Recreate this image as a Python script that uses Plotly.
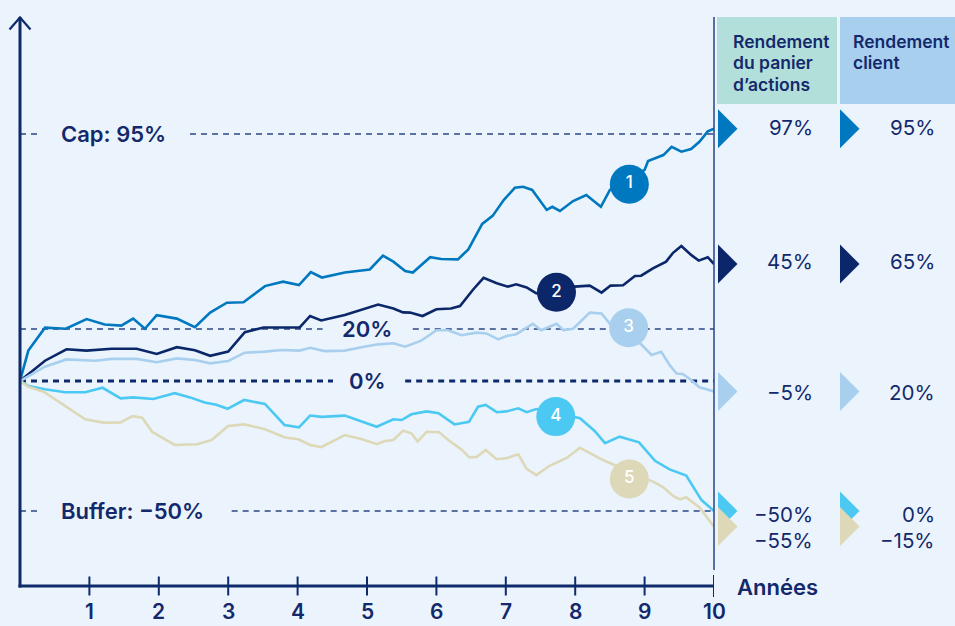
import plotly.graph_objects as go

# ---------------- data ----------------
years_1 = [0, 0.12, 0.36, 0.66, 0.96, 1.22, 1.46, 1.63, 1.80, 1.97, 2.26, 2.52, 2.74, 2.98, 3.22, 3.53,
           3.79, 4.02, 4.19, 4.35, 4.68, 5.04, 5.23, 5.38, 5.55, 5.66, 5.91, 6.07, 6.31, 6.46, 6.66, 6.81,
           6.97, 7.13, 7.25, 7.38, 7.59, 7.67, 7.78, 7.97, 8.16, 8.37, 8.50, 9.00, 9.05, 9.27, 9.39, 9.53,
           9.67, 9.79, 9.91, 10]
ret_1 = [0, 11.7, 20.5, 20.1, 23.8, 21.7, 21.3, 24.0, 20.1, 25.3, 24.0, 20.7, 26.3, 30.1, 30.3, 36.5,
         38.2, 36.9, 41.9, 39.8, 41.7, 42.9, 48.2, 45.9, 42.3, 41.7, 47.6, 46.9, 46.8, 50.6, 60.4, 63.5,
         69.6, 74.3, 74.7, 73.5, 65.8, 67.0, 65.4, 69.2, 71.5, 67.0, 73.5, 81.2, 84.6, 86.9, 90.1, 88.2,
         89.2, 92.0, 96.0, 97]

years_2 = [0, 0.36, 0.67, 0.96, 1.32, 1.68, 1.97, 2.26, 2.52, 2.74, 3.00, 3.24, 3.51, 4.03, 4.18, 4.34,
           4.68, 4.97, 5.16, 5.38, 5.52, 5.62, 5.80, 6.00, 6.21, 6.34, 6.53, 6.68, 6.87, 7.03, 7.15, 7.30,
           7.44, 7.99, 8.21, 8.38, 8.51, 8.69, 8.86, 8.95, 9.12, 9.31, 9.41, 9.53, 9.67, 9.78, 9.91, 10]
ret_2 = [0, 7.8, 12.2, 11.7, 12.4, 12.4, 10.4, 13.0, 11.8, 9.7, 11.3, 18.8, 20.6, 20.6, 25.0, 23.3,
         25.4, 27.9, 29.4, 27.9, 26.4, 26.3, 25.0, 27.6, 27.9, 28.8, 35.2, 39.7, 37.6, 36.3, 37.2, 36.0,
         33.7, 36.3, 36.7, 34.0, 36.7, 36.8, 40.4, 40.5, 43.3, 45.9, 49.3, 51.9, 48.5, 46.3, 47.6, 45]

years_3 = [0, 0.36, 0.67, 1.08, 1.32, 1.68, 1.97, 2.26, 2.52, 2.74, 3.00, 3.24, 3.53, 3.77, 4.03, 4.18,
           4.39, 4.68, 4.92, 5.16, 5.38, 5.55, 5.78, 6.00, 6.17, 6.36, 6.58, 6.72, 6.89, 7.01, 7.15, 7.39,
           7.51, 7.73, 7.83, 7.97, 8.21, 8.38, 8.50, 8.95, 9.10, 9.24, 9.36, 9.46, 9.55, 9.67, 9.79, 9.94, 10]
ret_3 = [0, 5.5, 8.3, 7.8, 8.5, 8.5, 7.2, 8.7, 8.1, 6.8, 7.7, 10.9, 11.3, 11.9, 11.7, 12.8,
         11.5, 11.7, 13.0, 14.1, 14.5, 13.2, 15.5, 19.5, 19.5, 17.6, 18.6, 18.3, 16.0, 17.3, 18.0, 22.0,
         19.5, 22.0, 19.6, 20.1, 26.3, 26.0, 22.0, 14.1, 10.0, 11.2, 6.2, 2.9, 2.7, 0.4, -2.4, -3.5, -4]

years_4 = [0, 0.12, 0.36, 0.65, 0.94, 1.19, 1.45, 1.63, 1.92, 2.23, 2.45, 2.66, 2.83, 2.99, 3.23, 3.38,
           3.53, 3.81, 4.02, 4.18, 4.35, 4.68, 4.92, 5.14, 5.38, 5.50, 5.64, 5.86, 6.03, 6.26, 6.47, 6.60,
           6.71, 6.87, 7.01, 7.18, 7.30, 7.44, 8.07, 8.28, 8.43, 8.64, 8.92, 9.15, 9.36, 9.60, 9.82, 10]
ret_4 = [0, -1.9, -3.2, -4.3, -4.3, -2.6, -6.7, -6.3, -6.9, -4.7, -6.3, -8.3, -9.1, -10.7, -7.3, -8.1,
         -8.8, -16.9, -17.8, -13.3, -13.8, -13.3, -15.7, -17.6, -14.7, -15.0, -12.8, -11.7, -12.4, -16.7,
         -15.7, -9.9, -9.2, -12.0, -11.7, -10.5, -12.0, -10.8, -14.3, -19.2, -23.9, -21.4, -23.6, -30.7,
         -34.0, -36.4, -45.8, -50]

years_5 = [0, 0.12, 0.34, 0.65, 0.94, 1.20, 1.45, 1.62, 1.76, 1.91, 2.23, 2.55, 2.76, 3.00, 3.23, 3.38,
           3.53, 3.82, 4.01, 4.18, 4.34, 4.68, 4.92, 5.14, 5.26, 5.38, 5.52, 5.64, 5.73, 5.86, 6.04, 6.17,
           6.36, 6.47, 6.58, 6.71, 6.87, 7.01, 7.18, 7.30, 7.44, 7.63, 7.87, 8.07, 8.21, 8.40, 9.15, 9.27,
           9.41, 9.51, 9.60, 9.79, 10]
ret_5 = [0, -2.2, -4.1, -9.6, -14.7, -16.0, -15.9, -13.5, -14.1, -19.7, -24.6, -24.3, -22.7, -17.3,
         -16.7, -17.6, -18.6, -21.7, -22.4, -24.6, -25.4, -20.8, -22.3, -24.3, -23.1, -22.7, -19.1, -20.1,
         -23.3, -19.5, -19.7, -22.7, -26.3, -29.3, -29.2, -26.5, -30.1, -29.7, -28.2, -33.8, -36.2, -32.6,
         -29.7, -25.7, -27.6, -30.4, -39.1, -40.9, -44.2, -45.5, -44.7, -48.6, -56]

scenario_labels = ["1", "2", "3", "4", "5"]
badge_years = [8.78, 7.73, 8.77, 7.72, 8.78]
badge_returns = [75.7, 34.1, 20.5, -13.7, -37.7]

basket_returns_text = ["97%", "45%", "\u22125%", "\u221250%", "\u221255%"]
client_returns_text = ["95%", "65%", "20%", "0%", "\u221215%"]

x_ticks = [1, 2, 3, 4, 5, 6, 7, 8, 9, 10]
x_tick_text = ["1", "2", "3", "4", "5", "6", "7", "8", "9", "10"]

cap_level = 95
mid_level = 20
zero_level = 0
buffer_level = -50

header_basket = ["Rendement", "du panier", "d\u2019actions"]
header_client = ["Rendement", "client"]

# ---------------- style ----------------
BG = "#EBF4FC"
NAVY = "#13296B"
AXIS = "#0E2A6B"
colors = ["#0078BF", "#0B2769", "#A8CFEE", "#4CC9F3", "#DDD8B8"]
FONT = "Inter"

W, H = 955, 626
L, R, T, B = 20, 714, 17, 586
Y_TOP, Y_BOT = (381 - T) / 2.6, (381 - B) / 2.6


def px(x):
    return (x - L) / (R - L)


def py(y):
    return (B - y) / (B - T)


fig = go.Figure()

series = [(years_1, ret_1), (years_2, ret_2), (years_3, ret_3), (years_4, ret_4), (years_5, ret_5)]
for (xs, ys), c in zip(series, colors):
    fig.add_trace(go.Scatter(x=xs, y=ys, mode="lines",
                             line=dict(color=c, width=2.6), hoverinfo="skip"))

fig.add_trace(go.Scatter(
    x=badge_years, y=badge_returns, mode="markers+text",
    marker=dict(size=39, color=colors, line=dict(width=0), opacity=1),
    text=scenario_labels, textposition="middle center",
    textfont=dict(family=FONT, size=17, color="white", weight=500),
    hoverinfo="skip", cliponaxis=False))

shapes = []
# reference dashed lines (with gaps for labels)
thin = dict(color="#2C4584", width=1.3, dash="6px,5px")
for lvl, segs in [(cap_level, [(0, 0.245), (2.45, 10)]),
                  (mid_level, [(0, 4.36), (5.66, 10)]),
                  (buffer_level, [(0, 0.245), (3.05, 10)])]:
    for a, b in segs:
        shapes.append(dict(type="line", xref="x", yref="y", x0=a, x1=b, y0=lvl, y1=lvl,
                           line=thin, layer="below"))
for a, b in [(0, 4.51), (5.55, 10)]:
    shapes.append(dict(type="line", xref="x", yref="y", x0=a, x1=b, y0=zero_level, y1=zero_level,
                       line=dict(color=AXIS, width=3, dash="6px,5px"), layer="below"))

# axes
shapes.append(dict(type="line", xref="paper", yref="paper", x0=0, x1=0, y0=py(B + 1.5), y1=py(T),
                   line=dict(color=AXIS, width=3)))
shapes.append(dict(type="line", xref="paper", yref="paper", x0=px(L - 1.5), x1=1, y0=0, y1=0,
                   line=dict(color=AXIS, width=3)))
shapes.append(dict(type="path", xref="paper", yref="paper",
                   path=f"M {px(9.5)},{py(29.5)} L {px(20)},{py(17.5)} L {px(30.5)},{py(29.5)}",
                   line=dict(color=AXIS, width=2.2)))
for t in x_ticks:
    ext = 11 if t == 10 else 9.5
    shapes.append(dict(type="line", xref="x", yref="paper", x0=t, x1=t,
                       y0=py(B + ext), y1=py(B - ext), line=dict(color=AXIS, width=2)))
# right separator
shapes.append(dict(type="line", xref="paper", yref="paper", x0=1, x1=1, y0=py(570), y1=py(T),
                   line=dict(color="#2A4383", width=1.5)))
# header boxes
shapes.append(dict(type="rect", xref="paper", yref="paper", x0=px(717), x1=px(837),
                   y0=py(104), y1=py(17), fillcolor="#B3DFDA", line=dict(width=0)))
shapes.append(dict(type="rect", xref="paper", yref="paper", x0=px(840), x1=px(960),
                   y0=py(104), y1=py(17), fillcolor="#A9CFEF", line=dict(width=0)))

# end triangles
ends = [ret_1[-1], ret_2[-1], ret_3[-1], ret_4[-1], ret_5[-1]]
half = 19.5 / 2.6
for col_x in (718, 840):
    for v, c in zip(ends, colors):
        shapes.append(dict(type="path", xref="paper", yref="y",
                           path=f"M {px(col_x)},{v + half} L {px(col_x + 19.5)},{v} L {px(col_x)},{v - half} Z",
                           fillcolor=c, line=dict(width=0)))

annotations = []
lab_font = dict(family=FONT, size=22, color=NAVY, weight=600)
annotations.append(dict(x=px(59), y=cap_level, xref="paper", yref="y", text="Cap: 95%",
                        showarrow=False, xanchor="left", yanchor="middle", font=lab_font))
annotations.append(dict(x=px(59), y=buffer_level, xref="paper", yref="y", text="Buffer: \u221250%",
                        showarrow=False, xanchor="left", yanchor="middle", font=lab_font))
annotations.append(dict(x=5.0, y=mid_level, xref="x", yref="y", text="20%",
                        showarrow=False, xanchor="center", yanchor="middle", font=lab_font))
annotations.append(dict(x=5.0, y=zero_level, xref="x", yref="y", text="0%",
                        showarrow=False, xanchor="center", yanchor="middle", font=lab_font))

for t, tt in zip(x_ticks, x_tick_text):
    annotations.append(dict(x=t, y=py(612), xref="x", yref="paper", text=tt, showarrow=False,
                            xanchor="center", yanchor="middle",
                            font=dict(family=FONT, size=21, color=NAVY, weight=600)))
annotations.append(dict(x=px(735), y=py(587), xref="paper", yref="paper", text="Ann\u00e9es",
                        showarrow=False, xanchor="left", yanchor="middle",
                        font=dict(family=FONT, size=22, color=NAVY, weight=600)))

hdr_font = dict(family=FONT, size=17.5, color=NAVY, weight=600)
for i, line in enumerate(header_basket):
    annotations.append(dict(x=px(731), y=py(41 + 21.5 * i), xref="paper", yref="paper", text=line,
                            showarrow=False, xanchor="left", yanchor="middle", font=hdr_font))
for i, line in enumerate(header_client):
    annotations.append(dict(x=px(851), y=py(41 + 21.5 * i), xref="paper", yref="paper", text=line,
                            showarrow=False, xanchor="left", yanchor="middle", font=hdr_font))

val_font = dict(family=FONT, size=20.5, color=NAVY, weight=400)
row_py = [127, 261, 392, 514, 540]
for yv, t1, t2 in zip(row_py, basket_returns_text, client_returns_text):
    annotations.append(dict(x=px(815), y=py(yv), xref="paper", yref="paper", text=t1,
                            showarrow=False, xanchor="right", yanchor="middle", font=val_font))
    annotations.append(dict(x=px(937), y=py(yv), xref="paper", yref="paper", text=t2,
                            showarrow=False, xanchor="right", yanchor="middle", font=val_font))

fig.update_layout(
    width=W, height=H,
    margin=dict(l=L, r=W - R, t=T, b=H - B, pad=0),
    paper_bgcolor=BG, plot_bgcolor=BG,
    showlegend=False, hovermode=False,
    xaxis=dict(range=[0, 10], visible=False, fixedrange=True),
    yaxis=dict(range=[Y_BOT, Y_TOP], visible=False, fixedrange=True),
    shapes=shapes, annotations=annotations,
    font=dict(family=FONT, color=NAVY),
)

fig.write_html("out.html", config={"displayModeBar": False},
               post_script="document.body.style.margin='0';document.body.style.background='" + BG + "';")
